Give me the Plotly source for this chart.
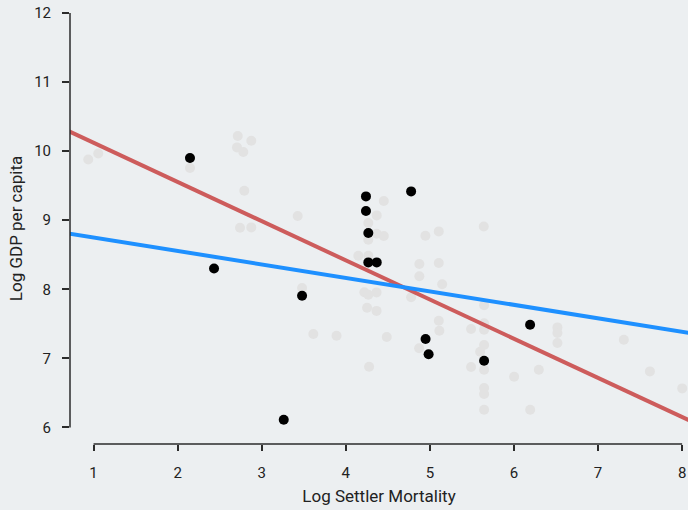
import plotly.graph_objects as go

# ---- data ----
gray_x = [0.937, 1.056, 2.147, 2.715, 2.876, 2.706, 2.781, 2.793, 3.428, 2.742,
          2.876, 4.452, 4.368, 4.268, 4.268, 4.368, 4.452, 4.947, 5.106, 5.641,
          4.149, 4.268, 4.875, 5.106, 4.875, 5.146, 3.480, 4.221, 4.268, 4.366,
          4.777, 4.253, 4.366, 5.645, 3.614, 3.890, 4.487, 5.106, 5.113, 5.490,
          5.645, 5.645, 5.645, 4.872, 5.598, 4.277, 5.490, 6.517, 6.517, 6.517,
          7.307, 5.645, 6.002, 6.296, 5.645, 5.645, 5.645, 6.193, 7.617, 8.001]
gray_y = [9.880, 9.967, 9.756, 10.219, 10.151, 10.054, 9.988, 9.427, 9.061, 8.892,
          8.896, 9.278, 9.070, 8.960, 8.718, 8.805, 8.771, 8.776, 8.838, 8.910,
          8.486, 8.486, 8.366, 8.380, 8.189, 8.074, 8.019, 7.958, 7.922, 7.955,
          7.885, 7.733, 7.687, 7.770, 7.353, 7.328, 7.309, 7.545, 7.400, 7.425,
          7.509, 7.415, 7.193, 7.147, 7.096, 6.879, 6.875, 7.448, 7.367, 7.222,
          7.270, 6.836, 6.734, 6.836, 6.571, 6.484, 6.257, 6.257, 6.811, 6.565]

black_x = [2.147, 2.433, 3.480, 3.262, 4.240, 4.240, 4.268, 4.268, 4.368, 4.777,
           4.949, 4.985, 5.645, 6.192]
black_y = [9.901, 8.302, 7.907, 6.112, 9.345, 9.133, 8.815, 8.389, 8.389, 9.417,
           7.280, 7.060, 6.966, 7.487]

line_x = [0.5, 8.5]
red_y = [10.405, 5.866]
blue_y = [8.848, 7.287]

x_ticks = [1, 2, 3, 4, 5, 6, 7, 8]
y_ticks = [6, 7, 8, 9, 10, 11, 12]

BG = "#eceff1"
AXIS = "#2b2b2b"
FONT = "Roboto"

fig = go.Figure()
fig.add_trace(go.Scatter(x=gray_x, y=gray_y, mode="markers",
                         marker=dict(size=10, color="#e2e2e2", line=dict(width=0)),
                         hoverinfo="skip"))
fig.add_trace(go.Scatter(x=black_x, y=black_y, mode="markers",
                         marker=dict(size=10, color="black", line=dict(width=0))))
fig.add_trace(go.Scatter(x=line_x, y=red_y, mode="lines",
                         line=dict(color="#cd5c5c", width=4)))
fig.add_trace(go.Scatter(x=line_x, y=blue_y, mode="lines",
                         line=dict(color="#1e90ff", width=4)))

# range-frame axis lines
fig.add_shape(type="line", xref="x", yref="paper", x0=x_ticks[0], x1=x_ticks[-1],
              y0=0, y1=0, line=dict(color=AXIS, width=1.5))
fig.add_shape(type="line", xref="paper", yref="y", x0=0, x1=0,
              y0=y_ticks[0], y1=y_ticks[-1], line=dict(color=AXIS, width=1.5))

fig.update_layout(
    width=688, height=510,
    margin=dict(l=70, r=0, t=13, b=66, autoexpand=False),
    paper_bgcolor=BG, plot_bgcolor=BG,
    showlegend=False,
    font=dict(family=FONT, size=15, color="#222222"),
)
fig.update_xaxes(range=[0.72, 8.07], tickvals=x_ticks, ticks="outside", ticklen=6,
                 tickwidth=1.5, tickcolor=AXIS, showgrid=False, zeroline=False,
                 showline=False, ticklabelstandoff=9, automargin=False,
                 title=dict(text="Log Settler Mortality", font=dict(size=17), standoff=9))
fig.update_yaxes(range=[5.76, 12.0], tickvals=y_ticks, ticks="outside", ticklen=7,
                 tickwidth=1.5, tickcolor=AXIS, showgrid=False, zeroline=False,
                 showline=False, ticklabelstandoff=8, automargin=False,
                 title=dict(text="Log GDP per capita", font=dict(size=17), standoff=7))

fig.write_html("out.html", config={"displayModeBar": False},
               post_script="document.body.style.margin='0';")
